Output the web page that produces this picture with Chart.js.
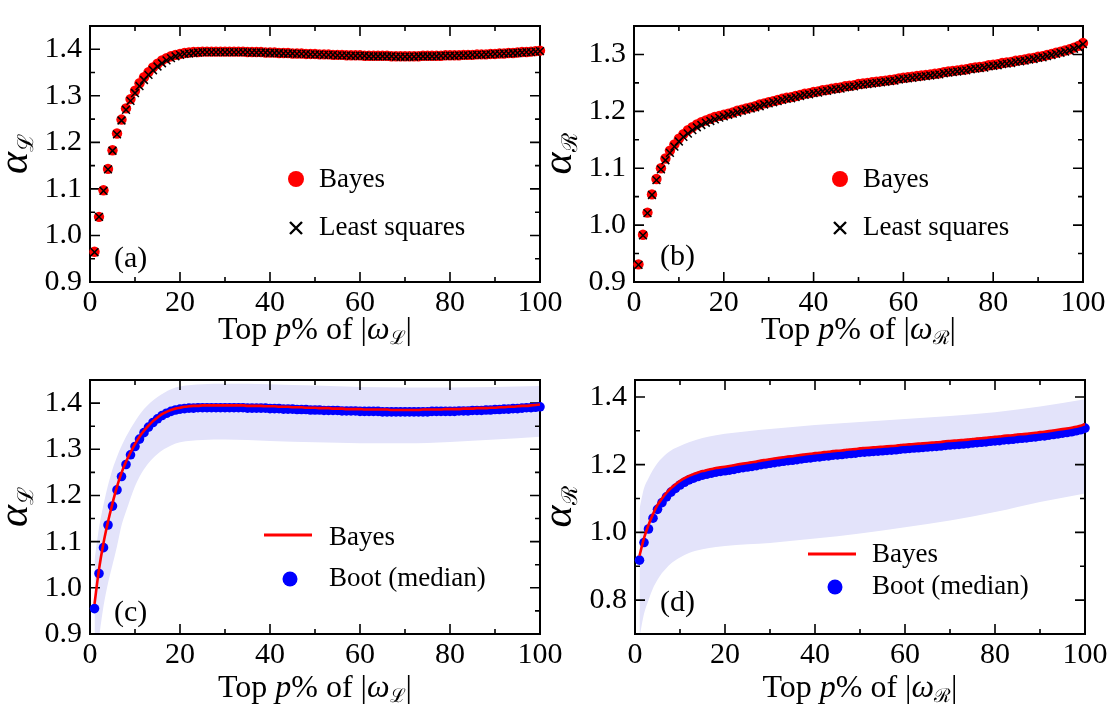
<!DOCTYPE html>
<html>
<head>
<meta charset="utf-8">
<script src="https://cdn.jsdelivr.net/npm/chart.js@4.4.1/dist/chart.umd.min.js"></script>
<style>
  html, body { margin: 0; padding: 0; background: #fff; overflow: hidden; }
  #wrap { position: relative; width: 1115px; height: 709px; }
  #wrap canvas { position: absolute; left: 0; }
</style>
</head>
<body>
<div id="wrap">
  <canvas id="chartA" width="1115" height="354" style="top:0"></canvas>
  <canvas id="chartB" width="1115" height="354" style="top:0"></canvas>
  <canvas id="chartC" width="1115" height="355" style="top:354px"></canvas>
  <canvas id="chartD" width="1115" height="355" style="top:354px"></canvas>
</div>
<script>
// top p% values (x of every marker)
const pValues = [1,2,3,4,5,6,7,8,9,10,11,12,13,14,15,16,17,18,19,20,
  21,22,23,24,25,26,27,28,29,30,31,32,33,34,35,36,37,38,39,40,
  41,42,43,44,45,46,47,48,49,50,51,52,53,54,55,56,57,58,59,60,
  61,62,63,64,65,66,67,68,69,70,71,72,73,74,75,76,77,78,79,80,
  81,82,83,84,85,86,87,88,89,90,91,92,93,94,95,96,97,98,99,100];

// alpha_L
const aBayes = [0.965,1.040,1.097,1.143,1.183,1.219,1.249,1.273,1.293,1.311,
  1.327,1.340,1.351,1.361,1.369,1.376,1.381,1.385,1.388,1.390,
  1.392,1.393,1.394,1.394,1.395,1.395,1.395,1.395,1.395,1.395,
  1.395,1.395,1.395,1.395,1.394,1.394,1.394,1.394,1.393,1.393,
  1.393,1.392,1.392,1.392,1.391,1.391,1.391,1.390,1.390,1.390,
  1.389,1.389,1.389,1.388,1.388,1.388,1.387,1.387,1.387,1.387,
  1.386,1.386,1.386,1.386,1.386,1.386,1.385,1.385,1.385,1.385,
  1.385,1.385,1.385,1.386,1.386,1.386,1.386,1.386,1.387,1.387,
  1.387,1.387,1.388,1.388,1.388,1.389,1.389,1.389,1.390,1.390,
  1.391,1.391,1.392,1.392,1.393,1.394,1.394,1.395,1.396,1.397];
const aLeast = [0.964,1.040,1.096,1.142,1.182,1.217,1.247,1.270,1.289,1.306,
  1.321,1.334,1.345,1.355,1.363,1.370,1.376,1.381,1.385,1.388,
  1.390,1.391,1.392,1.393,1.394,1.394,1.394,1.394,1.394,1.394,
  1.394,1.394,1.394,1.394,1.394,1.393,1.393,1.393,1.393,1.392,
  1.392,1.392,1.391,1.391,1.391,1.390,1.390,1.390,1.389,1.389,
  1.389,1.388,1.388,1.388,1.387,1.387,1.387,1.386,1.386,1.386,
  1.386,1.385,1.385,1.385,1.385,1.385,1.385,1.384,1.384,1.384,
  1.384,1.384,1.385,1.385,1.385,1.385,1.385,1.386,1.386,1.386,
  1.386,1.387,1.387,1.387,1.388,1.388,1.388,1.389,1.389,1.390,
  1.390,1.391,1.391,1.392,1.392,1.393,1.394,1.394,1.395,1.396];
const cBoot = [0.955,1.031,1.087,1.136,1.177,1.212,1.241,1.267,1.288,1.306,
  1.322,1.336,1.348,1.358,1.366,1.373,1.378,1.382,1.385,1.387,
  1.388,1.389,1.389,1.390,1.390,1.390,1.390,1.390,1.390,1.390,
  1.390,1.390,1.390,1.390,1.389,1.389,1.389,1.389,1.389,1.388,
  1.388,1.388,1.387,1.387,1.387,1.386,1.386,1.386,1.385,1.385,
  1.385,1.384,1.384,1.384,1.384,1.383,1.383,1.383,1.383,1.382,
  1.382,1.382,1.382,1.382,1.381,1.381,1.381,1.381,1.381,1.381,
  1.381,1.381,1.381,1.381,1.381,1.382,1.382,1.382,1.382,1.382,
  1.382,1.383,1.383,1.383,1.384,1.384,1.384,1.385,1.385,1.386,
  1.386,1.387,1.387,1.388,1.388,1.389,1.390,1.390,1.391,1.392];

// alpha_R
const bBayes = [0.931,0.983,1.022,1.054,1.081,1.100,1.117,1.131,1.142,1.152,
  1.160,1.167,1.172,1.177,1.181,1.184,1.187,1.190,1.192,1.194,
  1.196,1.198,1.201,1.203,1.205,1.207,1.209,1.212,1.214,1.216,
  1.218,1.220,1.222,1.224,1.225,1.227,1.229,1.231,1.232,1.234,
  1.235,1.237,1.238,1.240,1.241,1.242,1.244,1.245,1.246,1.248,
  1.249,1.250,1.251,1.252,1.253,1.254,1.255,1.256,1.258,1.259,
  1.260,1.261,1.262,1.263,1.264,1.265,1.266,1.267,1.269,1.270,
  1.271,1.272,1.273,1.274,1.276,1.277,1.278,1.279,1.281,1.282,
  1.283,1.285,1.286,1.287,1.289,1.290,1.291,1.293,1.294,1.296,
  1.297,1.299,1.301,1.303,1.305,1.307,1.309,1.312,1.315,1.320];
const bLeast = [0.930,0.982,1.021,1.053,1.079,1.098,1.114,1.127,1.138,1.147,
  1.155,1.161,1.167,1.172,1.176,1.180,1.183,1.186,1.189,1.191,
  1.194,1.196,1.198,1.201,1.203,1.205,1.207,1.209,1.212,1.214,
  1.216,1.218,1.220,1.222,1.223,1.225,1.227,1.229,1.230,1.232,
  1.233,1.235,1.236,1.238,1.239,1.240,1.242,1.243,1.244,1.246,
  1.247,1.248,1.249,1.250,1.251,1.252,1.253,1.254,1.256,1.257,
  1.258,1.259,1.260,1.261,1.262,1.263,1.264,1.265,1.267,1.268,
  1.269,1.270,1.271,1.272,1.274,1.275,1.276,1.277,1.279,1.280,
  1.281,1.283,1.284,1.285,1.287,1.288,1.289,1.291,1.292,1.294,
  1.295,1.297,1.299,1.301,1.303,1.305,1.307,1.310,1.313,1.318];
const dBoot = [0.918,0.970,1.010,1.042,1.068,1.088,1.105,1.119,1.130,1.140,
  1.148,1.155,1.160,1.165,1.169,1.172,1.175,1.178,1.180,1.182,
  1.184,1.186,1.189,1.191,1.193,1.195,1.197,1.200,1.202,1.204,
  1.206,1.208,1.210,1.212,1.213,1.215,1.217,1.219,1.220,1.222,
  1.223,1.225,1.226,1.228,1.229,1.230,1.232,1.233,1.234,1.236,
  1.237,1.238,1.239,1.240,1.241,1.242,1.243,1.244,1.246,1.247,
  1.248,1.249,1.250,1.251,1.252,1.253,1.254,1.255,1.257,1.258,
  1.259,1.260,1.261,1.262,1.264,1.265,1.266,1.267,1.269,1.270,
  1.271,1.273,1.274,1.275,1.277,1.278,1.279,1.281,1.282,1.284,
  1.285,1.287,1.289,1.291,1.293,1.295,1.297,1.300,1.303,1.308];

// bootstrap bands
const bandP  = [1,2,3,4,5,6,7,8,10,12,15,18,20,25,30,40,50,60,70,80,90,100];
const cUpper = [1.060,1.130,1.180,1.222,1.257,1.284,1.307,1.327,1.360,1.387,1.413,1.430,1.436,1.441,1.442,1.441,1.438,1.435,1.434,1.434,1.435,1.437];
const cLower = [0.800,0.890,0.960,1.010,1.050,1.090,1.135,1.165,1.220,1.257,1.290,1.308,1.315,1.320,1.321,1.318,1.315,1.313,1.313,1.316,1.321,1.327];
const dUpper = [1.070,1.130,1.160,1.185,1.205,1.220,1.232,1.242,1.255,1.266,1.279,1.287,1.291,1.299,1.305,1.317,1.326,1.335,1.344,1.355,1.372,1.393];
const dLower = [0.690,0.760,0.800,0.835,0.860,0.880,0.895,0.908,0.926,0.939,0.950,0.957,0.960,0.965,0.969,0.982,0.997,1.015,1.035,1.060,1.090,1.115];

// ticks
const xTicks = [0,20,40,60,80,100];
const xMinor = [10,30,50,70,90];
const aYTicks = [0.9,1.0,1.1,1.2,1.3,1.4];
const aYMinor = [0.95,1.05,1.15,1.25,1.35];
const bYTicks = [0.9,1.0,1.1,1.2,1.3];
const bYMinor = [0.95,1.05,1.15,1.25];
const dYTicks = [0.8,1.0,1.2,1.4];
const dYMinor = [0.9,1.1,1.3];

const fam = '"Liberation Serif", "DejaVu Serif", serif';
const bandColor = 'rgb(227,227,250)';

function xy(xs, ys) {
  return xs.map((x, i) => ({ x: x, y: ys[i] }));
}

function drawRuns(ctx, runs, x, y) {
  // runs drawn centred on x, baseline y
  let total = 0;
  runs.forEach(r => { ctx.font = r.f; total += ctx.measureText(r.t).width + (r.gap || 0); });
  let cx = x - total / 2;
  runs.forEach(r => {
    ctx.font = r.f;
    ctx.fillText(r.t, cx, y + (r.dy || 0));
    cx += ctx.measureText(r.t).width + (r.gap || 0);
  });
}

function drawFrame(chart, spec) {
  const ctx = chart.ctx, a = chart.chartArea;
  const xs = chart.scales.x, ys = chart.scales.y;
  ctx.save();
  ctx.strokeStyle = '#000';
  ctx.lineWidth = 2;
  ctx.strokeRect(a.left, a.top, a.right - a.left, a.bottom - a.top);
  ctx.lineWidth = 1.6;
  ctx.beginPath();
  const xt = (vals, len) => vals.forEach(v => {
    const px = xs.getPixelForValue(v);
    ctx.moveTo(px, a.bottom); ctx.lineTo(px, a.bottom - len);
    ctx.moveTo(px, a.top); ctx.lineTo(px, a.top + len);
  });
  const yt = (vals, len) => vals.forEach(v => {
    const py = ys.getPixelForValue(v);
    ctx.moveTo(a.left, py); ctx.lineTo(a.left + len, py);
    ctx.moveTo(a.right, py); ctx.lineTo(a.right - len, py);
  });
  xt(xTicks, 10); xt(xMinor, 5);
  yt(spec.yTicks, 10); yt(spec.yMinor, 5);
  ctx.stroke();
  ctx.restore();
}

function panelPlugin(spec) {
  return {
    id: 'panel' + spec.tag,
    beforeDatasetsDraw(chart) {
      if (spec.frameAfter === undefined) drawFrame(chart, spec);
    },
    afterDatasetDraw(chart, args) {
      if (spec.frameAfter === args.index) drawFrame(chart, spec);
    },
    afterDraw(chart) {
      const ctx = chart.ctx, a = chart.chartArea;
      ctx.save();
      ctx.fillStyle = '#000';
      ctx.textBaseline = 'alphabetic';
      ctx.textAlign = 'left';
      // x title
      drawRuns(ctx, [
        { t: 'Top ', f: '32px ' + fam },
        { t: 'p', f: 'italic 32px ' + fam },
        { t: '% of |', f: '32px ' + fam },
        { t: 'ω', f: 'italic 32px ' + fam },
        { t: spec.sub, f: '19px ' + fam, dy: 5 },
        { t: '|', f: '32px ' + fam }
      ], (a.left + a.right) / 2, spec.xTitleY);
      // y title
      ctx.save();
      ctx.translate(spec.yTitleX, (a.top + a.bottom) / 2);
      ctx.rotate(-Math.PI / 2);
      drawRuns(ctx, [
        { t: 'α', f: 'italic 42px ' + fam },
        { t: spec.sub, f: '22px ' + fam, dy: 6 }
      ], 0, 0);
      ctx.restore();
      // panel tag
      ctx.textBaseline = 'middle';
      ctx.font = '30px ' + fam;
      ctx.fillText(spec.tag, spec.tagX, spec.tagY);
      // legend
      ctx.font = '27px ' + fam;
      spec.legend.forEach(it => {
        if (it.kind === 'circle') {
          ctx.fillStyle = it.color;
          ctx.beginPath(); ctx.arc(it.mx, it.y, it.r, 0, Math.PI * 2); ctx.fill();
        } else if (it.kind === 'cross') {
          ctx.strokeStyle = '#000'; ctx.lineWidth = 2.4;
          ctx.beginPath();
          ctx.moveTo(it.mx - 6, it.y - 6); ctx.lineTo(it.mx + 6, it.y + 6);
          ctx.moveTo(it.mx - 6, it.y + 6); ctx.lineTo(it.mx + 6, it.y - 6);
          ctx.stroke();
        } else {
          ctx.strokeStyle = it.color; ctx.lineWidth = 3;
          ctx.beginPath(); ctx.moveTo(it.mx - 24, it.y); ctx.lineTo(it.mx + 24, it.y); ctx.stroke();
        }
        ctx.fillStyle = '#000';
        ctx.fillText(it.label, spec.textX, it.ty);
      });
      ctx.restore();
    }
  };
}

function makePanel(spec, datasets) {
  const yW = 90;
  new Chart(document.getElementById(spec.canvas), {
    type: 'scatter',
    data: { datasets: datasets },
    options: {
      responsive: false,
      animation: false,
      events: [],
      layout: { padding: { left: spec.area.left - yW, right: spec.W - spec.area.right, top: spec.area.top, bottom: 0 } },
      plugins: { legend: { display: false }, tooltip: { enabled: false } },
      scales: {
        x: {
          type: 'linear', min: 0, max: 100,
          grid: { display: false, drawTicks: false }, border: { display: false },
          ticks: { font: { family: fam, size: 30 }, color: '#000', padding: 3, maxRotation: 0, autoSkip: false,
                   callback: v => String(v) },
          afterBuildTicks: s => { s.ticks = xTicks.map(v => ({ value: v })); },
          afterFit: s => { s.height = spec.H - spec.area.bottom; }
        },
        y: {
          type: 'linear', min: spec.yMin, max: spec.yMax,
          grid: { display: false, drawTicks: false }, border: { display: false },
          ticks: { font: { family: fam, size: 30 }, color: '#000', padding: 8, autoSkip: false,
                   callback: v => Number(v).toFixed(1) },
          afterBuildTicks: s => { s.ticks = spec.yTicks.map(v => ({ value: v })); },
          afterFit: s => { s.width = yW; }
        }
      }
    },
    plugins: [panelPlugin(spec)]
  });
}

const crossSet = (data) => ({ data: data, pointStyle: 'crossRot', pointRadius: 5.5, borderColor: '#000',
  backgroundColor: '#000', borderWidth: 1.5, showLine: false, clip: false });
const dotSet = (data, color, r) => ({ data: data, pointStyle: 'circle', pointRadius: r, backgroundColor: color,
  borderWidth: 0, showLine: false, clip: false });
const redLine = (data) => ({ data: data, showLine: true, borderColor: '#ff0000', borderWidth: 2.6, pointRadius: 0,
  cubicInterpolationMode: 'monotone', fill: false, clip: 0 });
const bandSet = (data, fill) => ({ data: data, showLine: true, borderWidth: 0, borderColor: 'rgba(0,0,0,0)',
  pointRadius: 0, cubicInterpolationMode: 'monotone', fill: fill, backgroundColor: bandColor, clip: 0 });

// (a)
makePanel({
  canvas: 'chartA', tag: '(a)', W: 1115, H: 354, sub: 'ℒ',
  area: { left: 90, right: 540, top: 5.5, bottom: 282 },
  yMin: 0.9, yMax: 1.45, yTicks: aYTicks, yMinor: aYMinor,
  xTitleY: 339, yTitleX: 27, tagX: 114, tagY: 259, textX: 319,
  legend: [
    { kind: 'circle', color: '#ff0000', mx: 296, y: 179, r: 8, label: 'Bayes', ty: 180 },
    { kind: 'cross', mx: 296, y: 228, label: 'Least squares', ty: 228 }
  ]
}, [crossSet(xy(pValues, aLeast)), dotSet(xy(pValues, aBayes), '#ff0000', 5.2)]);

// (b)
makePanel({
  canvas: 'chartB', tag: '(b)', W: 1115, H: 354, sub: 'ℛ',
  area: { left: 634, right: 1083, top: 5.5, bottom: 282 },
  yMin: 0.9, yMax: 1.35, yTicks: bYTicks, yMinor: bYMinor,
  xTitleY: 339, yTitleX: 571, tagX: 660, tagY: 257, textX: 863,
  legend: [
    { kind: 'circle', color: '#ff0000', mx: 840, y: 179, r: 8, label: 'Bayes', ty: 180 },
    { kind: 'cross', mx: 840, y: 228, label: 'Least squares', ty: 228 }
  ]
}, [crossSet(xy(pValues, bLeast)), dotSet(xy(pValues, bBayes), '#ff0000', 5.2)]);

// (c)
makePanel({
  canvas: 'chartC', tag: '(c)', W: 1115, H: 355, sub: 'ℒ',
  area: { left: 90, right: 540, top: 4.5, bottom: 280 },
  yMin: 0.9, yMax: 1.45, yTicks: aYTicks, yMinor: aYMinor, frameAfter: 2,
  xTitleY: 343, yTitleX: 27, tagX: 114, tagY: 259, textX: 329,
  legend: [
    { kind: 'line', color: '#ff0000', mx: 288, y: 181, label: 'Bayes', ty: 184 },
    { kind: 'circle', color: '#0000ff', mx: 290, y: 225, r: 7.5, label: 'Boot (median)', ty: 225 }
  ]
}, [redLine(xy(pValues, aBayes)), dotSet(xy(pValues, cBoot), '#0000ff', 4.8),
    bandSet(xy(bandP, cUpper), '+1'), bandSet(xy(bandP, cLower), false)]);

// (d)
makePanel({
  canvas: 'chartD', tag: '(d)', W: 1115, H: 355, sub: 'ℛ',
  area: { left: 635, right: 1085, top: 4.5, bottom: 280 },
  yMin: 0.7, yMax: 1.45, yTicks: dYTicks, yMinor: dYMinor, frameAfter: 2,
  xTitleY: 343, yTitleX: 571, tagX: 660, tagY: 249, textX: 872,
  legend: [
    { kind: 'line', color: '#ff0000', mx: 832, y: 200, label: 'Bayes', ty: 201 },
    { kind: 'circle', color: '#0000ff', mx: 835, y: 233, r: 7.5, label: 'Boot (median)', ty: 233 }
  ]
}, [redLine(xy(pValues, bBayes)), dotSet(xy(pValues, dBoot), '#0000ff', 4.8),
    bandSet(xy(bandP, dUpper), '+1'), bandSet(xy(bandP, dLower), false)]);
</script>
</body>
</html>
